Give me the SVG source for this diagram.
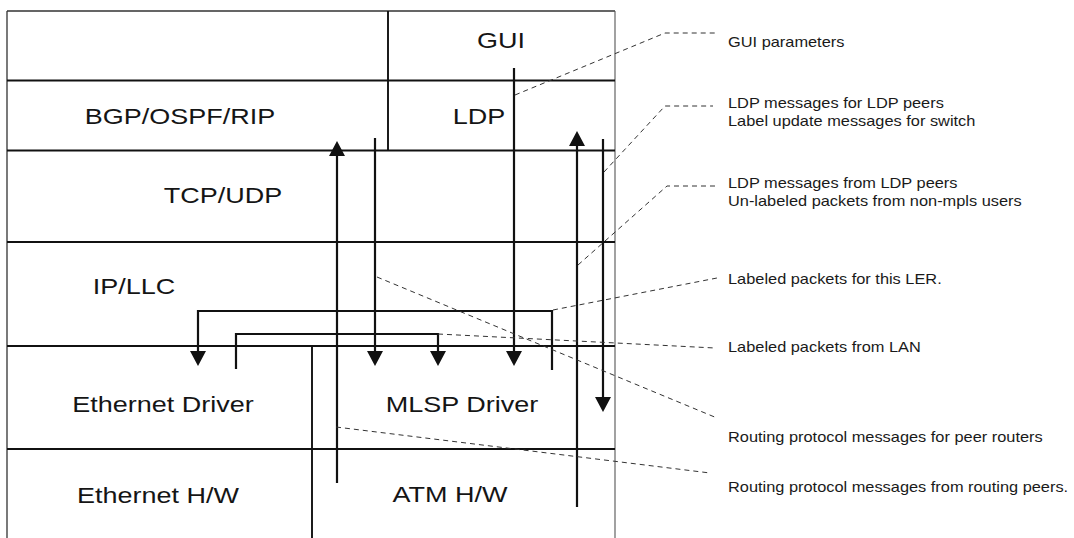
<svg xmlns="http://www.w3.org/2000/svg" width="1074" height="538" viewBox="0 0 1074 538">
<style>
.cell{fill:#fff;stroke:none}
.lbl{font-family:"Liberation Sans",Arial,sans-serif;font-size:22px;fill:#151515;text-anchor:middle}
.note{font-family:"Liberation Sans",Arial,sans-serif;font-size:14px;fill:#1a1a1a}
.hl{stroke:#111;stroke-width:2.2;fill:none}
.bd{stroke:#333;stroke-width:1.3;fill:none}
.dv{stroke:#111;stroke-width:1.9;fill:none}
.arr{stroke:#111;stroke-width:2.2;fill:none}
.lead{stroke:#333;stroke-width:1;fill:none;stroke-dasharray:5 4}
</style>
<defs>
<marker id="ah" markerUnits="userSpaceOnUse" markerWidth="15" markerHeight="16" viewBox="0 0 15 16" refX="1" refY="8" orient="auto">
<path d="M0,0 L15,8 L0,16 z" fill="#111"/>
</marker>
</defs>
<rect width="1074" height="538" fill="#fff"/>

<g id="blank-top"><rect class="cell" x="7" y="11" width="381" height="69"/></g>
<g id="gui"><rect class="cell" x="388" y="11" width="227" height="69"/><text class="lbl" transform="translate(501,48) scale(1.227,1)">GUI</text></g>
<g id="bgp-ospf-rip"><rect class="cell" x="7" y="80" width="381" height="70"/><text class="lbl" transform="translate(180,124) scale(1.227,1)">BGP/OSPF/RIP</text></g>
<g id="ldp"><rect class="cell" x="388" y="80" width="227" height="70"/><text class="lbl" transform="translate(479,124) scale(1.227,1)">LDP</text></g>
<g id="tcp-udp"><rect class="cell" x="7" y="150" width="608" height="92"/><text class="lbl" transform="translate(223,203) scale(1.227,1)">TCP/UDP</text></g>
<g id="ip-llc"><rect class="cell" x="7" y="242" width="608" height="104"/><text class="lbl" transform="translate(134,294) scale(1.227,1)">IP/LLC</text></g>
<g id="ethernet-driver"><rect class="cell" x="7" y="346" width="305" height="103"/><text class="lbl" transform="translate(163,412) scale(1.227,1)">Ethernet Driver</text></g>
<g id="mlsp-driver"><rect class="cell" x="312" y="346" width="303" height="103"/><text class="lbl" transform="translate(462,412) scale(1.227,1)">MLSP Driver</text></g>
<g id="ethernet-hw"><rect class="cell" x="7" y="449" width="305" height="89"/><text class="lbl" transform="translate(158,503) scale(1.227,1)">Ethernet H/W</text></g>
<g id="atm-hw"><rect class="cell" x="312" y="449" width="303" height="89"/><text class="lbl" transform="translate(450,502) scale(1.227,1)">ATM H/W</text></g>

<g id="grid">
<path class="bd" d="M7,11 H615 M7,11 V538"/>
<path d="M615,11 V538" stroke="#555" stroke-width="1.1" fill="none"/>
<path class="hl" d="M7,80.5 H615 M7,150.5 H615 M7,242 H615 M7,346 H615 M7,449 H615"/>
<path class="dv" d="M388,11 V150 M312,346 V538"/>
</g>

<g id="connectors">
<path class="arr" d="M337,483 V155" marker-end="url(#ah)"/>
<path class="arr" d="M577,507 V145" marker-end="url(#ah)"/>
<path class="arr" d="M375,138 V352" marker-end="url(#ah)"/>
<path class="arr" d="M514,68 V352" marker-end="url(#ah)"/>
<path class="arr" d="M603,139 V398" marker-end="url(#ah)"/>
<path class="arr" d="M552,370 V311 H198 V352" marker-end="url(#ah)"/>
<path class="arr" d="M236,369 V334 H438 V352" marker-end="url(#ah)"/>
<path class="lead" d="M515,95 L665,33 H717"/>
<path class="lead" d="M604,172 L665,106 H713"/>
<path class="lead" d="M578,265 L667,186 H717"/>
<path class="lead" d="M553,310 L717,278"/>
<path class="lead" d="M438,334 L715,348"/>
<path class="lead" d="M377,277 L717,418"/>
<path class="lead" d="M336,427 L710,473"/>
</g>

<g id="notes">
<text class="note" transform="translate(728,47) scale(1.17,1)">GUI parameters</text>
<text class="note" transform="translate(728,108) scale(1.17,1)">LDP messages for LDP peers</text>
<text class="note" transform="translate(728,126) scale(1.17,1)">Label update messages for switch</text>
<text class="note" transform="translate(728,188) scale(1.17,1)">LDP messages from LDP peers</text>
<text class="note" transform="translate(728,206) scale(1.17,1)">Un-labeled packets from non-mpls users</text>
<text class="note" transform="translate(728,284) scale(1.17,1)">Labeled packets for this LER.</text>
<text class="note" transform="translate(728,352) scale(1.17,1)">Labeled packets from LAN</text>
<text class="note" transform="translate(728,442) scale(1.17,1)">Routing protocol messages for peer routers</text>
<text class="note" transform="translate(728,492) scale(1.17,1)">Routing protocol messages from routing peers.</text>
</g>
</svg>
